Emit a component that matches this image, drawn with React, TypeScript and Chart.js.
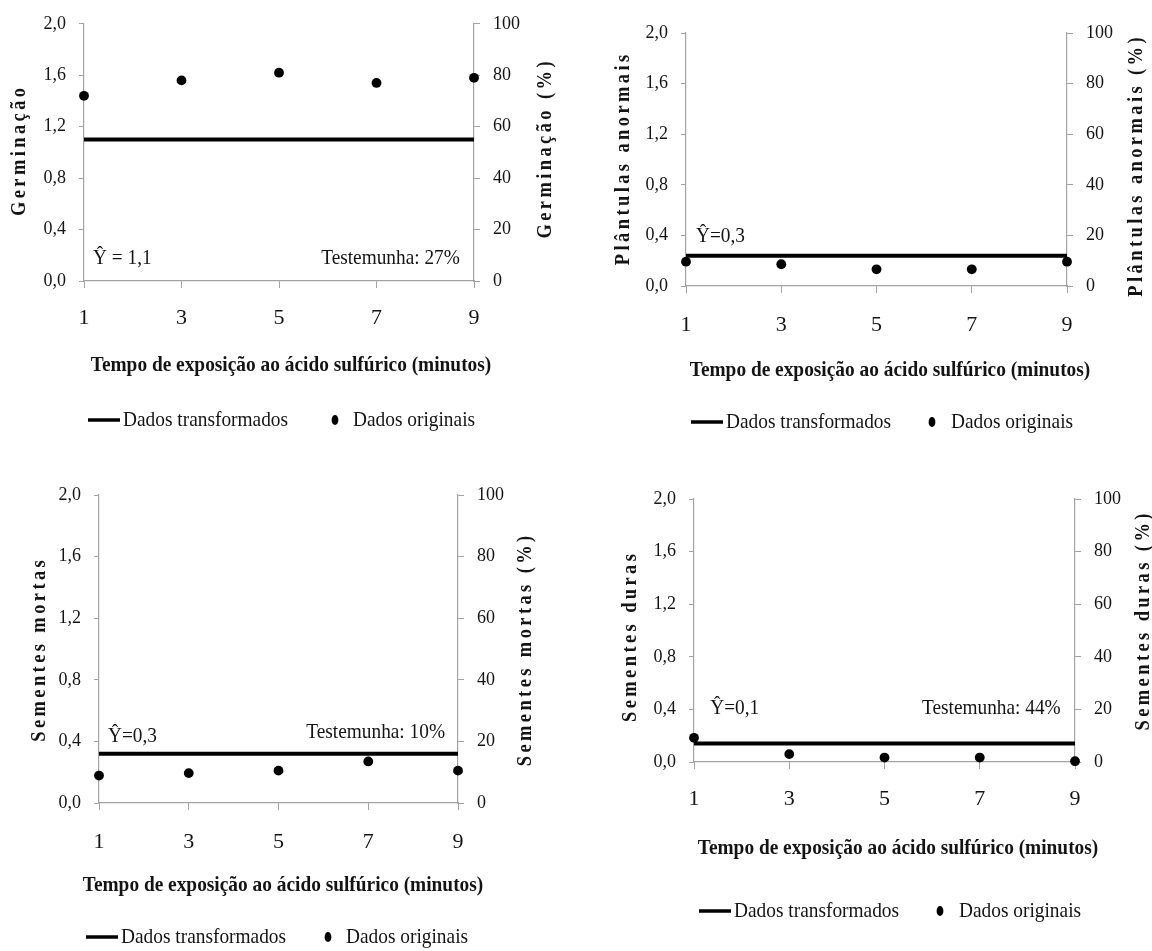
import React, { useEffect, useRef } from "react";
import { Chart, registerables } from "chart.js";

Chart.register(...registerables);

// ---------- data ----------
const exposureMinutes = [1, 3, 5, 7, 9];
const xTickValues = [1, 3, 5, 7, 9];
const xTickLabels = ["1", "3", "5", "7", "9"];
const leftTickValues = [0, 0.4, 0.8, 1.2, 1.6, 2.0];
const leftTickLabels = ["0,0", "0,4", "0,8", "1,2", "1,6", "2,0"];
const rightTickValues = [0, 20, 40, 60, 80, 100];
const rightTickLabels = ["0", "20", "40", "60", "80", "100"];

const germinacaoOriginal = [72, 78, 81, 77, 79];
const germinacaoTransformada = 1.1;
const anormaisOriginal = [9.6, 8.6, 6.6, 6.6, 9.6];
const anormaisTransformada = 0.24;
const mortasOriginal = [8.9, 9.7, 10.5, 13.5, 10.5];
const mortasTransformada = 0.32;
const durasOriginal = [9.2, 3.0, 1.7, 1.7, 0.3];
const durasTransformada = 0.14;

const leftTitles = ["Germinação", "Plântulas anormais", "Sementes mortas", "Sementes duras"];
const rightTitles = ["Germinação (%)", "Plântulas anormais (%)", "Sementes mortas (%)", "Sementes duras (%)"];
const xAxisTitle = "Tempo de exposição ao ácido sulfúrico (minutos)";
const legendLabels = ["Dados transformados", "Dados originais"];
const meanLabels = ["Ŷ = 1,1", "Ŷ=0,3", "Ŷ=0,3", "Ŷ=0,1"];
const controlLabels = ["Testemunha: 27%", "", "Testemunha: 10%", "Testemunha: 44%"];

// ---------- layout / style ----------
const SERIF = '"Liberation Serif", "Times New Roman", serif';
const AXIS_GRAY = "#a3a3a3";
const TEXT = "#141414";

type Layout = {
  box: { left: number; top: number; width: number; height: number };
  axis: { left: number; right: number; top: number; bottom: number };
  leftTitle: [number, number];
  rightTitle: [number, number];
  xTitle: [number, number];
  meanAt: [number, number];
  controlAt: [number, number];
  legend: { y: number; line: number; dot: number; text2: number };
  xTickPad: number;
};

const layouts: Layout[] = [
  {
    box: { left: 0, top: 0, width: 576, height: 470 },
    axis: { left: 84, right: 474, top: 23, bottom: 281 },
    leftTitle: [20, 152],
    rightTitle: [546, 150],
    xTitle: [291, 365],
    meanAt: [1.185, 0.178],
    controlAt: [8.71, 0.178],
    legend: { y: 420, line: 88, dot: 335, text2: 353 },
    xTickPad: 17,
  },
  {
    box: { left: 576, top: 0, width: 576, height: 470 },
    axis: { left: 110, right: 491, top: 33, bottom: 286 },
    leftTitle: [48, 160],
    rightTitle: [561, 167],
    xTitle: [314, 370],
    meanAt: [1.21, 0.388],
    controlAt: [8.7, 0.388],
    legend: { y: 422, line: 115, dot: 356, text2: 375 },
    xTickPad: 19,
  },
  {
    box: { left: 0, top: 470, width: 576, height: 481 },
    axis: { left: 99, right: 458, top: 25, bottom: 333 },
    leftTitle: [40, 181],
    rightTitle: [526, 181],
    xTitle: [283, 415],
    meanAt: [1.2, 0.43],
    controlAt: [8.71, 0.456],
    legend: { y: 467, line: 86, dot: 328, text2: 346 },
    xTickPad: 19.5,
  },
  {
    box: { left: 576, top: 470, width: 576, height: 481 },
    axis: { left: 118, right: 499, top: 29, bottom: 292 },
    leftTitle: [55, 168],
    rightTitle: [568, 152],
    xTitle: [322, 378],
    meanAt: [1.34, 0.41],
    controlAt: [8.7, 0.41],
    legend: { y: 441, line: 123, dot: 364, text2: 383 },
    xTickPad: 17.5,
  },
];

type Panel = {
  original: number[];
  transformed: number;
  index: number;
};

const panels: Panel[] = [
  { original: germinacaoOriginal, transformed: germinacaoTransformada, index: 0 },
  { original: anormaisOriginal, transformed: anormaisTransformada, index: 1 },
  { original: mortasOriginal, transformed: mortasTransformada, index: 2 },
  { original: durasOriginal, transformed: durasTransformada, index: 3 },
];

// text drawn slightly condensed, as in the scanned figure
function fillCondensed(
  ctx: CanvasRenderingContext2D,
  text: string,
  x: number,
  y: number,
  align: CanvasTextAlign,
  sx: number
) {
  ctx.save();
  ctx.translate(x, y);
  ctx.scale(sx, 1);
  ctx.textAlign = align;
  ctx.textBaseline = "middle";
  ctx.fillText(text, 0, 0);
  ctx.restore();
}

function drawSpacedVertical(
  ctx: CanvasRenderingContext2D,
  text: string,
  cx: number,
  cy: number,
  spacing: number,
  sx: number
) {
  ctx.save();
  ctx.translate(cx, cy);
  ctx.rotate(-Math.PI / 2);
  const chars = Array.from(text);
  const widths = chars.map((c) => ctx.measureText(c).width * sx);
  const total = widths.reduce((a, b) => a + b, 0) + spacing * (chars.length - 1);
  let x = -total / 2;
  ctx.textAlign = "left";
  ctx.textBaseline = "middle";
  chars.forEach((c, i) => {
    ctx.save();
    ctx.translate(x, 0);
    ctx.scale(sx, 1);
    ctx.fillText(c, 0, 0);
    ctx.restore();
    x += widths[i] + spacing;
  });
  ctx.restore();
}

function makeTextPlugin(panel: Panel) {
  const L = layouts[panel.index];
  const i = panel.index;
  return {
    id: "panelText" + i,
    afterDraw(chart: any) {
      const ctx: CanvasRenderingContext2D = chart.ctx;
      const xs = chart.scales.x;
      const ys = chart.scales.y;
      ctx.save();
      ctx.fillStyle = TEXT;

      // axis titles
      ctx.font = `bold 21px ${SERIF}`;
      drawSpacedVertical(ctx, leftTitles[i], L.leftTitle[0], L.leftTitle[1], 3.4, 0.88);
      drawSpacedVertical(ctx, rightTitles[i], L.rightTitle[0], L.rightTitle[1], 3.4, 0.88);
      ctx.font = `bold 22px ${SERIF}`;
      fillCondensed(ctx, xAxisTitle, L.xTitle[0], L.xTitle[1], "center", 0.88);

      // annotations
      ctx.font = `21px ${SERIF}`;
      fillCondensed(
        ctx,
        meanLabels[i],
        xs.getPixelForValue(L.meanAt[0]),
        ys.getPixelForValue(L.meanAt[1]),
        "left",
        0.92
      );
      if (controlLabels[i]) {
        fillCondensed(
          ctx,
          controlLabels[i],
          xs.getPixelForValue(L.controlAt[0]),
          ys.getPixelForValue(L.controlAt[1]),
          "right",
          0.92
        );
      }

      // legend
      const lineDs = chart.data.datasets[0];
      const ly = L.legend.y;
      ctx.strokeStyle = lineDs.borderColor;
      ctx.lineWidth = 3.5;
      ctx.beginPath();
      ctx.moveTo(L.legend.line, ly);
      ctx.lineTo(L.legend.line + 32, ly);
      ctx.stroke();
      ctx.font = `22px ${SERIF}`;
      fillCondensed(ctx, legendLabels[0], L.legend.line + 35, ly, "left", 0.88);
      ctx.beginPath();
      ctx.ellipse(L.legend.dot, ly, 3.4, 5, 0, 0, Math.PI * 2);
      ctx.fillStyle = "#000";
      ctx.fill();
      ctx.fillStyle = TEXT;
      fillCondensed(ctx, legendLabels[1], L.legend.text2, ly, "left", 0.88);

      ctx.restore();
    },
  };
}

function makeConfig(panel: Panel): any {
  const L = layouts[panel.index];
  const W = L.box.width;
  const H = L.box.height;
  return {
    type: "line",
    data: {
      datasets: [
        {
          label: legendLabels[0],
          data: exposureMinutes.map((x) => ({ x, y: panel.transformed })),
          yAxisID: "y",
          borderColor: "#000000",
          borderWidth: 4,
          pointRadius: 0,
          showLine: true,
          clip: false,
        },
        {
          label: legendLabels[1],
          data: exposureMinutes.map((x, k) => ({ x, y: panel.original[k] })),
          yAxisID: "y1",
          showLine: false,
          pointRadius: 4.9,
          pointStyle: "circle",
          pointBackgroundColor: "#000000",
          pointBorderWidth: 0,
          clip: false,
        },
      ],
    },
    options: {
      responsive: true,
      maintainAspectRatio: false,
      animation: false,
      events: [],
      layout: { padding: { left: 0, right: 0, top: L.axis.top, bottom: 0 } },
      plugins: {
        legend: { display: false },
        tooltip: { enabled: false },
        title: { display: false },
      },
      scales: {
        x: {
          type: "linear",
          position: "bottom",
          min: 1,
          max: 9,
          afterBuildTicks: (s: any) => {
            s.ticks = xTickValues.map((v) => ({ value: v }));
          },
          afterFit: (s: any) => {
            s.height = H - L.axis.bottom;
          },
          ticks: {
            autoSkip: false,
            maxRotation: 0,
            callback: (_v: any, k: number) => xTickLabels[k],
            font: { family: SERIF, size: 22 },
            color: TEXT,
            padding: L.xTickPad,
          },
          grid: {
            drawOnChartArea: false,
            drawTicks: true,
            tickLength: 7,
            color: AXIS_GRAY,
            lineWidth: 1,
          },
          border: { display: true, color: AXIS_GRAY, width: 1.2 },
        },
        y: {
          type: "linear",
          position: "left",
          min: 0,
          max: 2,
          afterBuildTicks: (s: any) => {
            s.ticks = leftTickValues.map((v) => ({ value: v }));
          },
          afterFit: (s: any) => {
            s.width = L.axis.left;
          },
          ticks: {
            callback: (_v: any, k: number) => leftTickLabels[k],
            font: { family: SERIF, size: 18 },
            color: TEXT,
            padding: 13,
          },
          grid: {
            drawOnChartArea: false,
            drawTicks: true,
            tickLength: 5,
            color: AXIS_GRAY,
            lineWidth: 1,
          },
          border: { display: true, color: AXIS_GRAY, width: 1.2 },
        },
        y1: {
          type: "linear",
          position: "right",
          min: 0,
          max: 100,
          afterBuildTicks: (s: any) => {
            s.ticks = rightTickValues.map((v) => ({ value: v }));
          },
          afterFit: (s: any) => {
            s.width = W - L.axis.right;
          },
          ticks: {
            callback: (_v: any, k: number) => rightTickLabels[k],
            font: { family: SERIF, size: 18 },
            color: TEXT,
            padding: 13,
          },
          grid: {
            drawOnChartArea: false,
            drawTicks: true,
            tickLength: 6,
            color: AXIS_GRAY,
            lineWidth: 1,
          },
          border: { display: true, color: AXIS_GRAY, width: 1.2 },
        },
      },
    },
    plugins: [makeTextPlugin(panel)],
  };
}

function PanelChart({ panel }: { panel: Panel }) {
  const ref = useRef<HTMLCanvasElement>(null);
  const L = layouts[panel.index];
  useEffect(() => {
    if (!ref.current) return;
    const chart = new Chart(ref.current, makeConfig(panel));
    return () => chart.destroy();
  }, [panel]);
  return (
    <div
      style={{
        position: "absolute",
        left: L.box.left,
        top: L.box.top,
        width: L.box.width,
        height: L.box.height,
      }}
    >
      <canvas ref={ref} />
    </div>
  );
}

export default function App() {
  return (
    <div
      style={{
        position: "absolute",
        left: 0,
        top: 0,
        width: 1152,
        height: 951,
        background: "#ffffff",
        overflow: "hidden",
      }}
    >
      {panels.map((p) => (
        <PanelChart key={p.index} panel={p} />
      ))}
    </div>
  );
}
